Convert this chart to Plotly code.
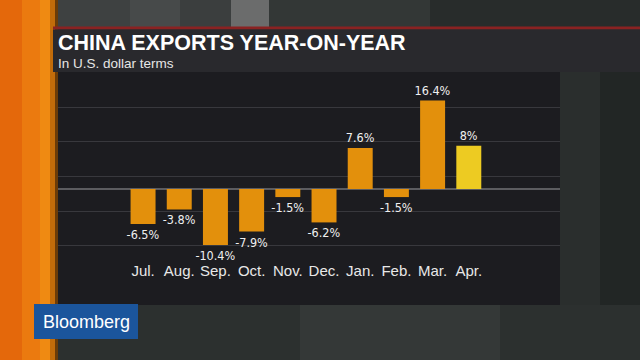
import plotly.graph_objects as go

months = ["Jul.", "Aug.", "Sep.", "Oct.", "Nov.", "Dec.", "Jan.", "Feb.", "Mar.", "Apr."]
values = [-6.5, -3.8, -10.4, -7.9, -1.5, -6.2, 7.6, -1.5, 16.4, 8.0]
labels = [f"{v:g}%" for v in values]
title = "CHINA EXPORTS YEAR-ON-YEAR"
subtitle = "In U.S. dollar terms"

W, H = 640, 360
ORANGE = "#E3900C"
YELLOW = "#EDCB22"
bar_colors = [ORANGE] * (len(values) - 1) + [YELLOW]


def px(x):
    return x / W


def py(y):
    return 1 - y / H


def rect(x0, y0, x1, y1, color):
    return dict(type="rect", xref="paper", yref="paper", x0=px(x0), x1=px(x1),
                y0=py(y1), y1=py(y0), fillcolor=color, line=dict(width=0), layer="below")


shapes = [
    rect(0, 0, 640, 360, "#2b2f2e"),
    rect(58, 0, 130, 28, "#3e4141"),
    rect(130, 0, 180, 28, "#474a4a"),
    rect(180, 0, 231, 28, "#3b3e3e"),
    rect(231, 0, 269, 28, "#6b6c6c"),
    rect(269, 0, 430, 28, "#333736"),
    rect(430, 0, 640, 28, "#282c2b"),
    rect(560, 72, 600, 305, "#2a2e2d"),
    rect(600, 72, 640, 305, "#222625"),
    rect(58, 305, 640, 360, "#2c302f"),
    rect(300, 305, 500, 360, "#343837"),
    rect(0, 0, 22, 360, "#E4680B"),
    rect(22, 0, 40, 360, "#EB7A0F"),
    rect(40, 0, 50, 360, "#EF8A12"),
    rect(50, 0, 55, 360, "#C26C0A"),
    rect(55, 0, 58, 360, "#6b3c08"),
    rect(53, 26.5, 640, 29.5, "#8a2222"),
    rect(53, 29.5, 640, 72, "#29292d"),
    rect(58, 72, 560, 305, "#1c1c20"),
    rect(34, 304, 138, 339, "#1B559C"),
]

fig = go.Figure()
fig.add_trace(go.Bar(
    x=months, y=values, marker=dict(color=bar_colors, line=dict(width=0)),
    text=labels, textposition="outside", cliponaxis=False, constraintext="none",
    textfont=dict(family="DejaVu Sans Condensed, Liberation Sans Narrow, Roboto Condensed, Liberation Sans",
                  size=12.5, color="#f0f0f0"),
    hoverinfo="skip",
))

fig.update_layout(
    width=W, height=H,
    margin=dict(l=0, r=0, t=0, b=0),
    paper_bgcolor="#2b2f2e", plot_bgcolor="rgba(0,0,0,0)",
    showlegend=False, bargap=0.31,
    shapes=shapes,
    xaxis=dict(domain=[px(58), px(560)], range=[-2.35, 11.52], showgrid=False,
               zeroline=False, showline=False, ticks="", ticklabelstandoff=2,
               tickfont=dict(family="Liberation Sans, Arial", size=15, color="#e8e8e8")),
    yaxis=dict(domain=[py(258), py(72)], range=[-12.8, 21.7], showticklabels=False,
               showgrid=True, gridcolor="#38383d", gridwidth=1,
               tick0=2.32, dtick=6.41,
               zeroline=True, zerolinecolor="#5c5c60", zerolinewidth=2),
    annotations=[
        dict(text=f"<b>{title}</b>", xref="paper", yref="paper", x=px(57), y=py(43),
             xanchor="left", yanchor="middle", showarrow=False, borderpad=0,
             font=dict(family="Liberation Sans, Arial", size=21.5, color="#ffffff")),
        dict(text=subtitle, xref="paper", yref="paper", x=px(57), y=py(63),
             xanchor="left", yanchor="middle", showarrow=False, borderpad=0,
             font=dict(family="Liberation Sans, Arial", size=13.5, color="#e6e6e6")),
        dict(text="Bloomberg", xref="paper", yref="paper", x=px(86), y=py(321.5),
             xanchor="center", yanchor="middle", showarrow=False,
             font=dict(family="Liberation Sans, Arial", size=18, color="#ffffff")),
    ],
)

fig.write_html("out.html", config={"displayModeBar": False},
               post_script="document.body.style.margin='0';document.body.style.overflow='hidden';")
